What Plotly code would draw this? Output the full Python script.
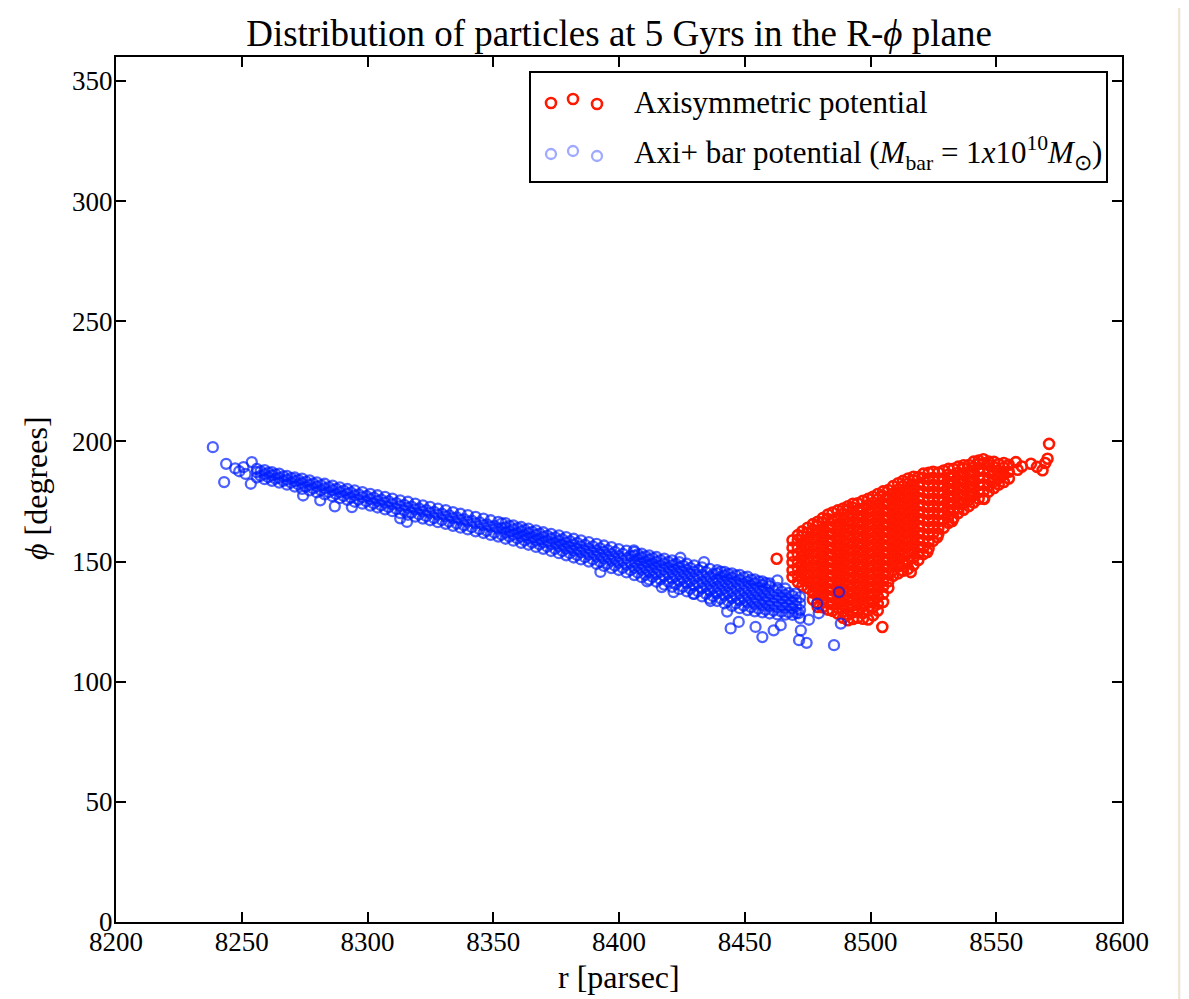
import plotly.graph_objects as go

# ---------------- data ----------------
x_ticks = [8200, 8250, 8300, 8350, 8400, 8450, 8500, 8550, 8600]
y_ticks = [0, 50, 100, 150, 200, 250, 300, 350]

# Axisymmetric potential (red): dense blob, listed column by column
red_col_r = [8469.0, 8471.1, 8472.9, 8475.0, 8477.1, 8479.0, 8481.0, 8483.1, 8484.9, 8487.0,
             8489.1, 8491.0, 8493.0, 8494.9, 8497.0, 8499.1, 8501.0, 8502.9, 8505.0, 8507.1,
             8509.0, 8511.0, 8512.9, 8515.0, 8517.1, 8519.0, 8521.0, 8523.1, 8524.9, 8527.0,
             8529.1, 8531.0, 8533.0, 8534.9, 8537.0, 8539.1, 8541.0, 8543.0, 8544.9, 8547.0,
             8549.1, 8551.0, 8553.0, 8555.0]
red_col_phi = [
    [143.6, 146.4, 149.7, 152.5, 155.8, 158.9],
    [141.5, 144.2, 147.3, 150.1, 153.2, 156.0, 159.1, 161.0],
    [140.0, 142.8, 145.9, 148.7, 151.8, 154.6, 157.7, 160.5, 162.6],
    [139.0, 141.6, 144.5, 147.4, 150.3, 153.2, 156.1, 159.0, 161.9, 164.1],
    [134.2, 137.1, 139.9, 142.8, 145.7, 148.6, 151.5, 154.4, 157.3, 160.2, 163.1, 165.6],
    [131.1, 133.0, 135.9, 138.8, 141.7, 144.6, 147.5, 150.4, 153.3, 156.2, 159.1, 162.0, 164.9, 166.6],
    [131.0, 134.4, 137.3, 140.2, 143.1, 146.0, 148.9, 151.8, 154.7, 157.6, 160.5, 163.4, 166.3, 168.1],
    [130.0, 132.8, 135.8, 138.7, 141.6, 144.5, 147.4, 150.3, 153.2, 156.1, 159.0, 161.9, 164.8, 167.7, 169.6],
    [129.5, 132.2, 135.1, 138.0, 140.9, 143.8, 146.7, 149.6, 152.5, 155.4, 158.3, 161.2, 164.1, 167.0, 170.4],
    [128.4, 130.7, 133.6, 136.5, 139.4, 142.3, 145.2, 148.1, 151.0, 153.9, 156.8, 159.7, 162.6, 165.5, 168.4, 171.3],
    [126.6, 129.3, 132.2, 135.1, 138.0, 140.9, 143.8, 146.7, 149.6, 152.5, 155.4, 158.3, 161.2, 164.1, 167.0, 169.9, 172.1],
    [125.6, 127.9, 130.8, 133.7, 136.6, 139.5, 142.4, 145.3, 148.2, 151.1, 154.0, 156.9, 159.8, 162.7, 165.6, 168.5, 171.4, 173.0],
    [126.1, 128.9, 131.8, 134.7, 137.6, 140.5, 143.4, 146.3, 149.2, 152.1, 155.0, 157.9, 160.8, 163.7, 166.6, 169.5, 172.4, 174.1],
    [126.6, 130.0, 133.0, 136.0, 139.0, 141.9, 144.8, 147.8, 150.7, 153.6, 156.5, 159.5, 162.4, 165.3, 168.2, 171.2, 174.3],
    [126.2, 128.6, 131.5, 134.4, 137.3, 140.2, 143.1, 146.0, 148.9, 151.8, 154.7, 157.6, 160.5, 163.4, 166.3, 169.2, 172.1, 175.3],
    [125.9, 129.7, 132.9, 135.8, 138.7, 141.6, 144.5, 147.4, 150.3, 153.2, 156.1, 159.0, 161.9, 164.8, 167.7, 170.6, 173.5, 176.1],
    [127.6, 130.9, 133.8, 136.7, 139.6, 142.5, 145.4, 148.3, 151.2, 154.1, 157.0, 159.9, 162.8, 165.7, 168.6, 171.5, 174.4, 177.0],
    [129.6, 132.4, 135.3, 138.2, 141.1, 144.0, 146.9, 149.8, 152.7, 155.6, 158.5, 161.4, 164.3, 167.2, 170.1, 173.0, 175.9, 178.1],
    [133.2, 136.6, 139.6, 142.5, 145.4, 148.3, 151.2, 154.1, 157.0, 159.9, 162.8, 165.7, 168.6, 171.5, 174.4, 177.3, 179.2],
    [139.1, 141.8, 144.7, 147.6, 150.5, 153.4, 156.3, 159.2, 162.1, 165.0, 167.9, 170.8, 173.7, 176.6, 179.8],
    [144.1, 146.4, 149.3, 152.2, 155.1, 158.0, 160.9, 163.8, 166.7, 169.6, 172.5, 175.4, 178.3, 181.4],
    [145.1, 148.0, 150.9, 153.8, 156.7, 159.6, 162.5, 165.4, 168.3, 171.2, 174.1, 177.0, 179.9, 182.6],
    [146.2, 149.1, 152.3, 155.2, 158.1, 161.0, 163.9, 166.8, 169.7, 172.6, 175.5, 178.4, 181.3, 183.6],
    [147.0, 150.4, 153.5, 156.4, 159.3, 162.2, 165.1, 168.0, 170.9, 173.8, 176.7, 179.6, 182.5, 184.6],
    [148.6, 151.6, 154.8, 157.7, 160.6, 163.5, 166.4, 169.3, 172.2, 175.1, 178.0, 180.9, 183.8, 185.3],
    [150.6, 153.3, 156.2, 159.1, 162.0, 164.9, 167.8, 170.7, 173.6, 176.5, 179.4, 182.3, 185.2],
    [153.1, 155.8, 158.7, 161.6, 164.5, 167.4, 170.3, 173.2, 176.1, 179.0, 181.9, 184.8, 186.6],
    [155.6, 158.2, 161.1, 164.0, 166.9, 169.8, 172.7, 175.6, 178.5, 181.4, 184.3, 187.0],
    [158.6, 161.7, 164.6, 167.5, 170.4, 173.3, 176.2, 179.1, 182.0, 184.9, 187.4],
    [161.6, 163.9, 166.8, 169.7, 172.6, 175.5, 178.4, 181.3, 184.2, 187.1],
    [164.1, 167.3, 170.2, 173.1, 176.0, 178.9, 181.8, 184.7, 187.9],
    [166.1, 168.8, 171.7, 174.6, 177.5, 180.4, 183.3, 186.2, 188.6],
    [168.1, 170.9, 173.8, 176.7, 179.6, 182.5, 185.4, 188.6],
    [170.2, 172.4, 175.3, 178.2, 181.1, 184.0, 186.9, 189.5],
    [171.6, 174.3, 177.2, 180.1, 183.0, 185.9, 188.8, 190.1],
    [173.1, 175.7, 178.6, 181.5, 184.4, 187.3, 190.2],
    [174.6, 177.6, 180.5, 183.4, 186.3, 189.2, 191.6],
    [176.1, 179.0, 181.9, 184.8, 187.7, 190.6, 192.1],
    [176.2, 179.3, 182.2, 185.1, 188.0, 190.9, 192.6],
    [179.1, 181.5, 184.4, 187.3, 190.2, 191.6],
    [180.6, 183.5, 186.4, 189.3, 191.5],
    [182.1, 184.8, 187.7, 190.6],
    [183.1, 186.2, 189.1, 191.0],
    [184.6, 187.4, 190.3],
]
red_extra_r = [8462.7, 8504.7, 8516.0, 8522.6, 8526.6, 8532.5, 8545.2,
               8557.8, 8558.5, 8560.2, 8563.8, 8566.2, 8568.4, 8569.5, 8570.4, 8571.0]
red_extra_phi = [151.2, 122.8, 145.6, 154.0, 160.2, 166.9, 176.1,
                 191.4, 188.2, 189.6, 190.7, 189.4, 188.0, 191.0, 192.8, 199.0]

# Axi + bar potential (blue): thin band, listed column by column
blue_col_r = [8256.0, 8259.1, 8262.0, 8264.9, 8268.0, 8271.1, 8274.0, 8277.0, 8279.9, 8283.0,
              8286.1, 8289.0, 8292.0, 8294.9, 8298.0, 8301.1, 8304.0, 8307.0, 8309.9, 8313.0,
              8316.1, 8319.0, 8322.0, 8324.9, 8328.0, 8331.1, 8334.0, 8337.0, 8339.9, 8343.0,
              8346.1, 8349.0, 8352.0, 8354.9, 8358.0, 8361.1, 8364.0, 8367.0, 8369.9, 8373.0,
              8376.1, 8379.0, 8382.0, 8384.9, 8388.0, 8391.1, 8394.0, 8397.0, 8399.9, 8403.0,
              8406.1, 8409.0, 8412.0, 8414.9, 8418.0, 8421.1, 8424.0, 8427.0, 8429.9, 8433.0,
              8436.1, 8439.0, 8442.0, 8444.9, 8448.0, 8451.1, 8454.0, 8457.0, 8459.9, 8463.0,
              8466.1, 8469.0, 8472.0]
blue_col_phi = [
    [185.0, 187.2, 188.6], [184.3, 186.4, 188.1], [183.6, 185.9, 187.2], [182.9, 184.8, 186.6],
    [182.0, 184.1, 185.7], [181.2, 183.5, 185.0], [180.3, 182.6, 184.5], [179.6, 181.9, 183.8],
    [178.8, 181.2, 183.0], [178.0, 180.5, 182.4], [177.2, 179.7, 181.6], [176.4, 178.9, 180.9],
    [175.7, 178.3, 180.2], [174.9, 177.5, 179.6], [174.1, 176.8, 178.9], [173.3, 176.0, 178.2],
    [172.5, 175.3, 177.6], [171.7, 174.5, 176.9], [171.0, 173.9, 176.2], [170.2, 173.1, 175.5],
    [169.5, 172.4, 174.9], [168.7, 171.7, 174.1], [167.9, 170.9, 173.4], [167.2, 170.3, 172.8],
    [166.4, 169.5, 172.0], [165.7, 168.8, 171.4], [164.9, 168.1, 170.6], [164.1, 167.4, 169.9],
    [163.4, 166.6, 169.3], [162.6, 165.9, 168.6], [161.9, 165.2, 167.9], [161.1, 164.5, 167.2],
    [160.4, 163.7, 166.5], [159.5, 162.0, 164.2, 166.0], [158.7, 161.2, 163.4, 165.1],
    [157.8, 160.4, 162.6, 164.4], [157.0, 159.6, 161.9, 163.7], [156.1, 158.8, 161.1, 163.0],
    [155.3, 158.0, 160.3, 162.2], [154.4, 157.2, 159.6, 161.5], [153.5, 156.3, 158.7, 160.9],
    [152.6, 155.4, 157.9, 160.2], [151.7, 154.6, 157.1, 159.5], [150.9, 153.8, 156.3, 158.8],
    [150.0, 152.9, 155.5, 158.1], [149.0, 152.1, 154.7, 157.4], [148.2, 151.2, 154.0, 156.7],
    [147.3, 150.4, 153.1, 156.0], [146.5, 149.5, 152.3, 155.2], [145.5, 148.6, 151.4, 154.6],
    [144.4, 147.4, 150.0, 152.5, 154.0], [143.5, 146.6, 149.2, 151.7, 153.3],
    [142.5, 145.7, 148.3, 150.8, 152.6], [141.6, 144.8, 147.4, 150.0, 151.9],
    [140.4, 143.9, 146.6, 149.2, 151.2], [139.5, 142.9, 145.7, 148.4, 150.5],
    [138.5, 141.9, 144.8, 147.5, 149.8], [137.6, 141.0, 143.9, 146.6, 149.1],
    [136.6, 140.0, 142.9, 145.8, 148.4], [135.5, 138.9, 141.6, 144.5, 147.6],
    [134.6, 138.0, 140.8, 143.7, 147.0], [133.6, 136.9, 139.6, 142.6, 145.1, 146.4],
    [132.6, 135.9, 138.8, 141.5, 144.2, 145.7], [131.6, 134.8, 137.7, 140.6, 143.3, 145.1],
    [130.6, 133.9, 136.8, 139.8, 142.5, 144.5], [129.8, 133.0, 135.9, 138.8, 141.6, 143.7],
    [129.3, 132.4, 135.1, 138.0, 140.9, 142.6], [128.9, 131.9, 134.6, 137.5, 140.3, 141.8],
    [128.4, 131.5, 134.0, 136.8, 139.8, 140.9], [128.0, 131.0, 133.6, 136.2, 139.0],
    [127.9, 130.8, 133.4, 136.1, 138.8], [127.8, 130.5, 133.0, 135.7], [126.5, 129.8, 132.6, 135.2],
]
# second, staggered set of blue columns filling the band between the first set
blue_col2_r = [8257.5, 8260.6, 8263.4, 8266.5, 8269.6, 8272.5, 8275.5, 8278.4, 8281.5, 8284.6,
               8287.5, 8290.5, 8293.4, 8296.5, 8299.6, 8302.5, 8305.5, 8308.4, 8311.5, 8314.6,
               8317.5, 8320.5, 8323.4, 8326.5, 8329.6, 8332.5, 8335.5, 8338.4, 8341.5, 8344.6,
               8347.5, 8350.5, 8353.4, 8356.5, 8359.6, 8362.5, 8365.5, 8368.4, 8371.5, 8374.6,
               8377.5, 8380.5, 8383.4, 8386.5, 8389.6, 8392.5, 8395.5, 8398.4, 8401.5, 8404.6,
               8407.5, 8410.5, 8413.4, 8416.5, 8419.6, 8422.5, 8425.5, 8428.4, 8431.5, 8434.6,
               8437.5, 8440.5, 8443.4, 8446.5, 8449.6, 8452.5, 8455.5, 8458.4, 8461.5, 8464.6,
               8467.5, 8470.5]
blue_col2_phi = [
    [185.7, 187.6], [185.1, 187.0], [184.5, 186.3], [183.6, 185.5], [182.8, 184.7],
    [182.1, 184.0], [181.2, 183.3], [180.5, 182.5], [179.7, 181.8], [178.9, 181.0],
    [178.1, 180.3], [177.3, 179.5], [176.6, 178.8], [175.8, 178.0], [175.0, 177.3],
    [174.2, 176.6], [173.4, 175.8], [172.7, 175.1], [171.9, 174.3], [171.2, 173.6],
    [170.4, 172.9], [169.6, 172.1], [168.9, 171.4], [168.1, 170.7], [167.3, 169.9],
    [166.6, 169.2], [165.8, 168.4], [165.1, 167.7], [164.3, 167.0], [163.5, 166.3],
    [162.8, 165.5], [162.0, 164.8], [161.2, 163.9, 165.9], [160.4, 162.6, 164.8],
    [159.6, 161.8, 163.9], [158.8, 161.0, 163.2], [157.9, 160.2, 162.4], [157.1, 159.4, 161.6],
    [156.2, 158.6, 160.8], [155.3, 157.8, 160.1], [154.4, 157.0, 159.3], [153.5, 156.1, 158.5],
    [152.7, 155.3, 157.8], [151.8, 154.5, 157.0], [150.9, 153.7, 156.3], [150.0, 152.8, 155.5],
    [149.1, 152.0, 154.8], [148.3, 151.2, 154.0], [147.4, 150.4, 153.2], [146.4, 149.5, 152.4],
    [145.4, 148.3, 150.9, 153.0], [144.5, 147.4, 150.0, 152.2], [143.6, 146.5, 149.1, 151.4],
    [142.6, 145.7, 148.3, 150.6], [141.6, 144.8, 147.5, 149.9], [140.6, 143.8, 146.6, 149.1],
    [139.6, 142.9, 145.7, 148.3], [138.7, 141.9, 144.8, 147.4], [137.6, 140.9, 143.8, 146.5],
    [136.6, 139.8, 142.7, 145.6], [135.6, 138.9, 141.8, 144.8],
    [134.6, 137.9, 140.7, 143.6, 145.8], [133.6, 136.9, 139.8, 142.6, 144.9],
    [132.6, 135.8, 138.8, 141.7, 144.2], [131.7, 134.9, 137.9, 140.7, 143.4],
    [131.0, 134.1, 137.0, 139.9, 142.5], [130.4, 133.5, 136.3, 139.2, 141.8],
    [130.0, 133.0, 135.6, 138.6, 141.0], [129.6, 132.5, 135.2, 138.0],
    [129.2, 132.0, 134.7, 137.5], [128.9, 131.8, 134.3, 137.0], [128.6, 131.4, 134.0],
]
blue_extra_r = [8238.5, 8243.8, 8243.0, 8253.6, 8254.0, 8247.4, 8250.7, 8251.5, 8249.0,
                8274.4, 8281.2, 8287.0, 8293.8, 8313.0, 8315.7,
                8392.6, 8405.9, 8411.2, 8417.0, 8421.7, 8424.4, 8429.6, 8433.8, 8436.4, 8443.0,
                8444.4, 8447.6, 8454.3, 8457.0, 8461.5, 8463.0, 8464.3, 8470.2, 8471.4, 8471.6,
                8472.3, 8474.6, 8475.5, 8478.8, 8479.4, 8485.5, 8487.5, 8488.2]
blue_extra_phi = [197.6, 190.7, 183.1, 182.4, 191.4, 188.8, 189.3, 186.5, 187.6,
                  177.5, 175.5, 173.0, 172.7, 168.0, 166.5,
                  145.7, 154.7, 141.8, 139.4, 137.3, 151.6, 136.6, 149.8, 133.6, 129.2,
                  122.2, 124.9, 122.8, 118.6, 121.4, 142.2, 123.5, 136.7, 128.5, 117.3,
                  121.4, 116.2, 125.8, 132.5, 128.5, 115.2, 137.3, 124.2]

red_name = "Axisymmetric potential"
blue_name = "Axi+ bar potential (<i>M</i><sub>bar</sub> = 1<i>x</i>10<sup>10</sup><i>M</i><sub>⊙</sub>)"
title_text = "Distribution of particles at 5 Gyrs in the R-<i>ϕ</i> plane"
x_title = "r [parsec]"
y_title = "<i>ϕ</i> [degrees]"

# ---------------- build series ----------------
red_r = [r for r, col in zip(red_col_r, red_col_phi) for _ in col] + red_extra_r
red_phi = [p for col in red_col_phi for p in col] + red_extra_phi
blue_r = ([r for r, col in zip(blue_col_r, blue_col_phi) for _ in col]
          + [r for r, col in zip(blue_col2_r, blue_col2_phi) for _ in col] + blue_extra_r)
blue_phi = ([p for col in blue_col_phi for p in col]
            + [p for col in blue_col2_phi for p in col] + blue_extra_phi)

RED = "rgb(255,25,0)"
BLUE = "rgba(0,30,255,0.7)"
BLUE_LEG = "rgba(0,30,255,0.38)"
FONT = "Liberation Serif, Times New Roman, serif"

fig = go.Figure()
fig.add_trace(go.Scatter(x=red_r, y=red_phi, mode="markers", name=red_name,
                         marker=dict(symbol="circle-open", size=10, color=RED,
                                     line=dict(width=2.6, color=RED)),
                         showlegend=False))
fig.add_trace(go.Scatter(x=blue_r, y=blue_phi, mode="markers", name="Axi+ bar potential",
                         marker=dict(symbol="circle-open", size=10, color=BLUE,
                                     line=dict(width=2.3, color=BLUE)),
                         showlegend=False))

# The page places the figure 8 px in from the top-left corner; the layout below is
# expressed in the reference picture's pixel positions and shifted by that offset.
OFF = 8
W, H = 1189 - OFF, 999 - OFF
ML, MR, MT, MB = 116 - OFF, W - (1122 - OFF), 57 - OFF, H - (922 - OFF)
PW, PH = W - ML - MR, H - MT - MB


def px(xr):
    return (xr - OFF - ML) / PW


def py(yr):
    return (H - MB - (yr - OFF)) / PH


axis_common = dict(showline=True, linecolor="black", linewidth=2, mirror="ticks",
                   ticks="inside", ticklen=10, tickwidth=1.5, tickcolor="black",
                   showgrid=False, zeroline=False, automargin=False,
                   tickfont=dict(family=FONT, size=27, color="black"))

fig.update_xaxes(range=[8200, 8600], tickvals=x_ticks, ticktext=[str(v) for v in x_ticks],
                 ticklabelstandoff=-5, **axis_common)
fig.update_yaxes(range=[0, 360], tickvals=y_ticks, ticktext=[str(v) for v in y_ticks],
                 ticklabelstandoff=-4, **axis_common)

shapes = []
# legend frame
shapes.append(dict(type="rect", xref="paper", yref="paper",
                   x0=px(530), x1=px(1107), y0=py(182), y1=py(72),
                   line=dict(color="black", width=2), fillcolor="white", layer="above"))
# legend markers (three per entry, matplotlib style)
for (cx, cy) in [(551, 103), (573, 99), (597, 104)]:
    shapes.append(dict(type="circle", xref="paper", yref="paper",
                       xsizemode="pixel", ysizemode="pixel",
                       xanchor=px(cx), yanchor=py(cy), x0=-5, x1=5, y0=-5, y1=5,
                       line=dict(color=RED, width=2.6), layer="above"))
for (cx, cy) in [(551, 154), (573, 151), (597, 156)]:
    shapes.append(dict(type="circle", xref="paper", yref="paper",
                       xsizemode="pixel", ysizemode="pixel",
                       xanchor=px(cx), yanchor=py(cy), x0=-5, x1=5, y0=-5, y1=5,
                       line=dict(color=BLUE_LEG, width=2.3), layer="above"))
# faint page border at the right edge
shapes.append(dict(type="rect", xref="paper", yref="paper",
                   x0=px(1179), x1=px(1189), y0=py(999), y1=py(0),
                   line=dict(width=0), fillcolor="#f6f6f6", layer="below"))
shapes.append(dict(type="line", xref="paper", yref="paper",
                   x0=px(1179), x1=px(1179), y0=py(999), y1=py(0),
                   line=dict(color="#e9dfc6", width=1.5), layer="below"))

annotations = [
    dict(text=red_name, xref="paper", yref="paper", x=px(632), y=py(103),
         xanchor="left", yanchor="middle", showarrow=False,
         font=dict(family=FONT, size=31, color="black")),
    dict(text=blue_name, xref="paper", yref="paper", x=px(632), y=py(153),
         xanchor="left", yanchor="middle", showarrow=False,
         font=dict(family=FONT, size=31, color="black")),
    dict(text=x_title, xref="paper", yref="paper", x=px(619), y=py(977),
         xanchor="center", yanchor="middle", showarrow=False,
         font=dict(family=FONT, size=32, color="black")),
    dict(text=y_title, xref="paper", yref="paper", x=px(36), y=py(488),
         xanchor="center", yanchor="middle", showarrow=False, textangle=-90,
         font=dict(family=FONT, size=32, color="black")),
]

fig.update_layout(
    width=W, height=H,
    margin=dict(l=ML, r=MR, t=MT, b=MB, autoexpand=False),
    paper_bgcolor="white", plot_bgcolor="white",
    title=dict(text=title_text,
               x=px(619), xref="paper", xanchor="center",
               y=1 - (33 - OFF) / H, yref="container", yanchor="middle",
               font=dict(family=FONT, size=37, color="black")),
    shapes=shapes,
    annotations=annotations,
    showlegend=False,
)

fig.write_html("out.html")
